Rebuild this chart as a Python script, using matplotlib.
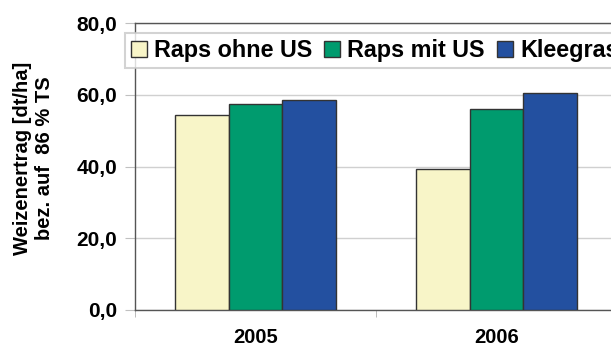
import numpy as np
import matplotlib
matplotlib.use("Agg")
import matplotlib.pyplot as plt

plt.rcParams["font.family"] = ["Liberation Sans", "DejaVu Sans"]
plt.rcParams["font.weight"] = "bold"

years = ["2005", "2006"]
series_names = ["Raps ohne US", "Raps mit US", "Kleegras"]
raps_ohne = [54.3, 39.3]
raps_mit = [57.5, 56.0]
kleegras = [58.4, 60.6]
colors = ["#F8F5C8", "#009B6E", "#2350A0"]

fig = plt.figure(figsize=(6.11, 3.49), dpi=100)
ax = fig.add_axes([135 / 611, 1 - 310 / 349, 482 / 611, 287 / 349])

x = np.arange(len(years))
w = 0.223
for i, (vals, name) in enumerate(zip([raps_ohne, raps_mit, kleegras], series_names)):
    ax.bar(x + (i - 1) * w, vals, w, color=colors[i], edgecolor="#333333",
           linewidth=1.0, label=name, zorder=3)

ax.set_xlim(-0.5, 1.5)
ax.set_ylim(0, 80)
ax.set_yticks([0, 20, 40, 60, 80])
ax.set_yticklabels(["0,0", "20,0", "40,0", "60,0", "80,0"])
ax.yaxis.grid(True, color="#d0d0d0", linewidth=1.0, zorder=0)
ax.tick_params(axis="y", length=7, color="#c0c0c0", labelsize=15, pad=6)
ax.set_xticks(x)
ax.set_xticklabels(years)
ax.set_xticks([-0.5, 0.5, 1.5], minor=True)
ax.tick_params(axis="x", which="major", length=0, labelsize=14.5, pad=13)
ax.tick_params(axis="x", which="minor", length=5, color="#b0b0b0")
for s in ["left", "bottom", "top", "right"]:
    ax.spines[s].set_color("#555555")
    ax.spines[s].set_linewidth(1.0)

fig.text(34 / 611, 1 - 158 / 349, "Weizenertrag [dt/ha]\nbez. auf  86 % TS",
         rotation=90, ha="center", va="center", fontsize=14.5,
         fontweight="bold", linespacing=1.2, multialignment="center")

leg = fig.legend(loc="upper left", bbox_to_anchor=(125 / 611, 1 - 33 / 349),
                 ncol=3, fontsize=16.8, frameon=True, fancybox=False,
                 edgecolor="#c8c8c8", handlelength=0.7, handleheight=0.7,
                 handletextpad=0.3, columnspacing=0.5, borderpad=0.25,
                 borderaxespad=0)
leg.get_frame().set_linewidth(1.5)

fig.savefig("out.png", dpi=100)
